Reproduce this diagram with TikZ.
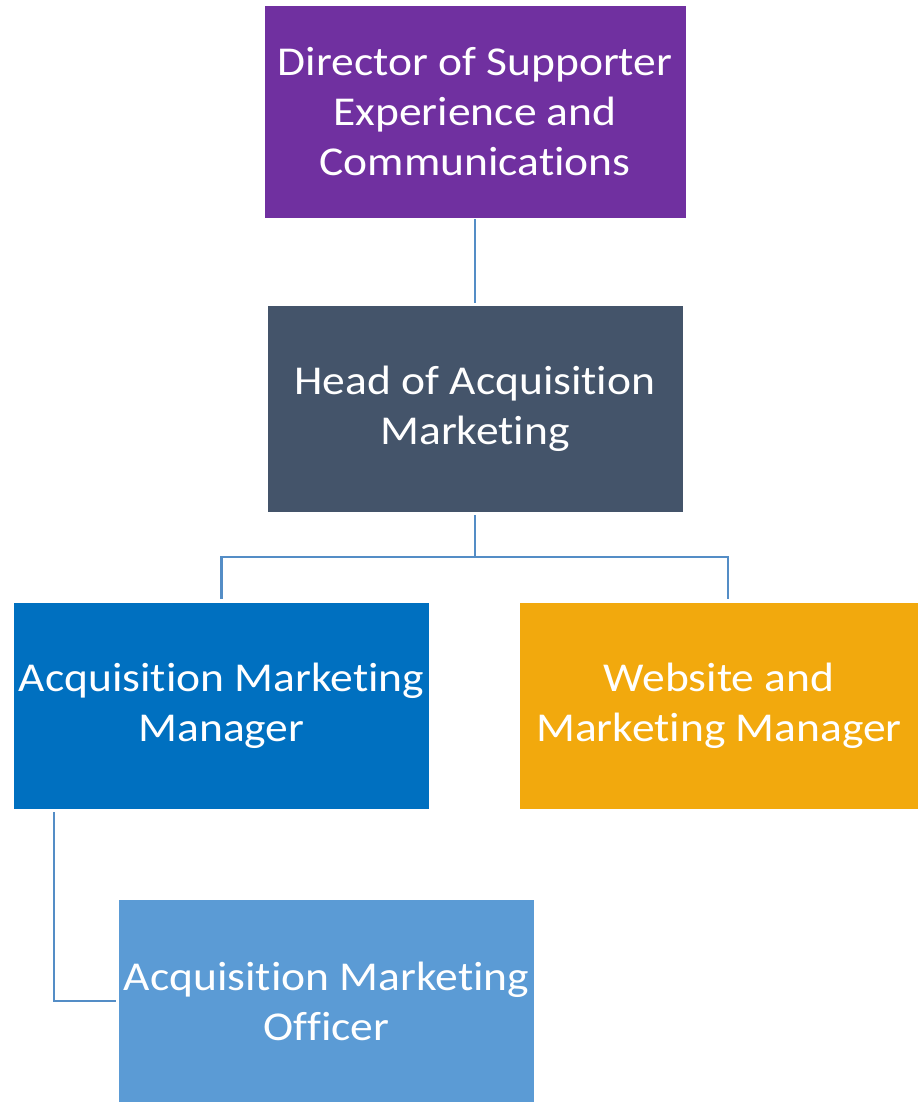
\documentclass[tikz,border=0pt]{standalone}
\usepackage{fontspec}
\setmainfont{Carlito}[Ligatures={NoCommon},FakeStretch=1.11]
\definecolor{cdir}{HTML}{7030A0}
\definecolor{chead}{HTML}{44546A}
\definecolor{camm}{HTML}{0070C0}
\definecolor{cwmm}{HTML}{F2A90D}
\definecolor{camo}{HTML}{5B9BD5}
\definecolor{cline}{RGB}{84,141,198}
\begin{document}
\begin{tikzpicture}[x=1pt,y=-1pt,
  box/.style={rectangle,inner sep=0pt,draw=none,text=white,align=center,
    font=\fontsize{41}{50}\selectfont},
  conn/.style={draw=cline,line width=2.5pt}]
\useasboundingbox (0,0) rectangle (918,1102);
\node[box,fill=cdir,minimum width=421pt,minimum height=212pt] (dir) at (475,112)
  {Director of Supporter\\Experience and\\Communications};
\node[box,fill=chead,minimum width=415pt,minimum height=206pt] (head) at (475,409)
  {Head of Acquisition\\Marketing};
\node[box,fill=camm,minimum width=415pt,minimum height=206pt] (amm) at (221.5,706)
  {Acquisition Marketing\\Manager};
\node[box,fill=cwmm,minimum width=398pt,minimum height=206pt] (wmm) at (719,706)
  {Website and\\Marketing Manager};
\node[box,fill=camo,minimum width=415pt,minimum height=202pt] (amo) at (326.5,1001)
  {Acquisition Marketing\\Officer};
\coordinate (bus) at (475,557);
\draw[conn] ([yshift=-1pt]dir.south) -- ([yshift=3pt]head.north);
\draw[conn] ([yshift=-3pt]head.south) -- (bus) -| ([yshift=4pt]amm.north);
\draw[conn] (bus) -| ([xshift=9pt,yshift=4pt]wmm.north);
\draw[conn] ([xshift=40pt,yshift=-3pt]amm.south west) |- ([xshift=-3pt]amo.west);
\end{tikzpicture}
\end{document}
